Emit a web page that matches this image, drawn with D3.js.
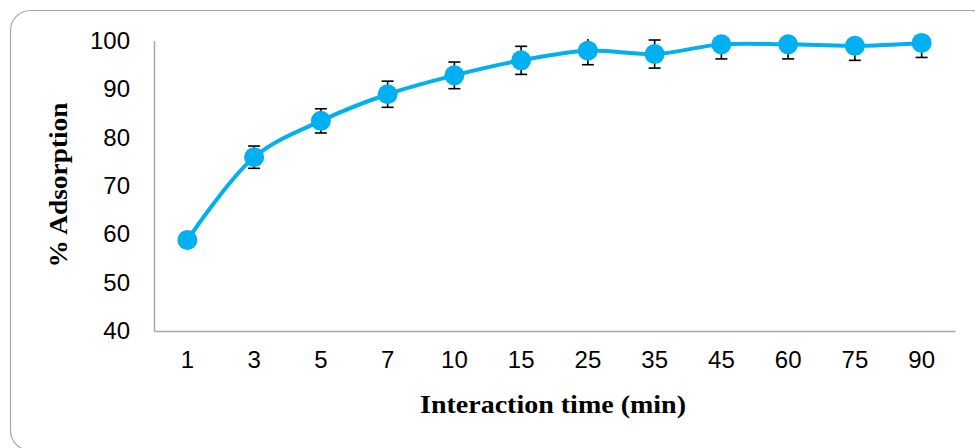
<!DOCTYPE html>
<html><head><meta charset="utf-8">
<script src="https://cdn.jsdelivr.net/npm/d3@7"></script>
<style>html,body{margin:0;padding:0;background:#fff;}svg{display:block;}</style>
</head><body>
<script>
const times = ["1","3","5","7","10","15","25","35","45","60","75","90"];
const adsorption = [58.8, 75.9, 83.4, 88.9, 92.8, 95.9, 97.9, 97.2, 99.2, 99.2, 98.9, 99.5];
const errors = [1.5, 2.3, 2.5, 2.7, 2.75, 2.9, 2.9, 2.9, 3.0, 3.0, 3.0, 3.0];
const yTicks = [40, 50, 60, 70, 80, 90, 100];

const W = 975, H = 448;
const svg = d3.select("body").append("svg").attr("width", W).attr("height", H);

svg.append("rect").attr("x", 10.5).attr("y", 10.5).attr("width", 980).attr("height", 440)
  .attr("rx", 20).attr("fill", "#fff").attr("stroke", "#a6a6a6").attr("stroke-width", 1.2);

const x = d3.scaleBand().domain(times).range([154, 955]);
const y = d3.scaleLinear().domain([40, 100]).range([331, 40.5]);

svg.append("defs").append("clipPath").attr("id", "clip")
  .append("rect").attr("x", 154).attr("y", 39).attr("width", 801).attr("height", 292);

// Y axis
const yAxis = svg.append("g").attr("transform", "translate(154,0)")
  .call(d3.axisLeft(y).tickValues(yTicks).tickSize(0).tickPadding(24));
yAxis.select(".domain").attr("stroke", "#a6a6a6").attr("stroke-width", 1.5);
yAxis.selectAll("text").attr("font-family", "Liberation Sans, Arial, sans-serif")
  .attr("font-size", 24).attr("fill", "#000");

// X axis
const xAxis = svg.append("g").attr("transform", "translate(0,331)")
  .call(d3.axisBottom(x).tickSize(0).tickPadding(20));
xAxis.select(".domain").attr("stroke", "#a6a6a6").attr("stroke-width", 1.5);
xAxis.selectAll("text").attr("font-family", "Liberation Sans, Arial, sans-serif")
  .attr("font-size", 24).attr("fill", "#000");

const cx = d => x(d) + x.bandwidth() / 2;
const data = times.map((t, i) => ({t, v: adsorption[i], e: errors[i]}));

// error bars
const eb = svg.append("g").attr("clip-path", "url(#clip)").attr("stroke", "#000").attr("stroke-width", 1.6);
data.forEach(d => {
  const xc = cx(d.t);
  eb.append("line").attr("x1", xc).attr("x2", xc).attr("y1", y(d.v + d.e)).attr("y2", y(d.v - d.e));
  eb.append("line").attr("x1", xc - 6).attr("x2", xc + 6).attr("y1", y(d.v + d.e)).attr("y2", y(d.v + d.e));
  eb.append("line").attr("x1", xc - 6).attr("x2", xc + 6).attr("y1", y(d.v - d.e)).attr("y2", y(d.v - d.e));
});

// line
const line = d3.line().x(d => cx(d.t)).y(d => y(d.v)).curve(d3.curveCatmullRom.alpha(0.5));
svg.append("path").datum(data).attr("d", line).attr("fill", "none")
  .attr("stroke", "#00b0f0").attr("stroke-width", 4);

// markers
svg.append("g").selectAll("circle").data(data).join("circle")
  .attr("cx", d => cx(d.t)).attr("cy", d => y(d.v)).attr("r", 10).attr("fill", "#00b0f0");

// titles
svg.append("text").attr("x", 553).attr("y", 413).attr("text-anchor", "middle")
  .attr("font-family", "Liberation Serif, Times New Roman, serif").attr("font-weight", "bold")
  .attr("font-size", 26).attr("textLength", 266).attr("lengthAdjust", "spacingAndGlyphs")
  .attr("fill", "#000").text("Interaction time (min)");

svg.append("text").attr("transform", "translate(67,185) rotate(-90)").attr("text-anchor", "middle")
  .attr("font-family", "Liberation Serif, Times New Roman, serif").attr("font-weight", "bold")
  .attr("font-size", 26).attr("textLength", 165).attr("lengthAdjust", "spacingAndGlyphs")
  .attr("fill", "#000").text("% Adsorption");
</script>
</body></html>
